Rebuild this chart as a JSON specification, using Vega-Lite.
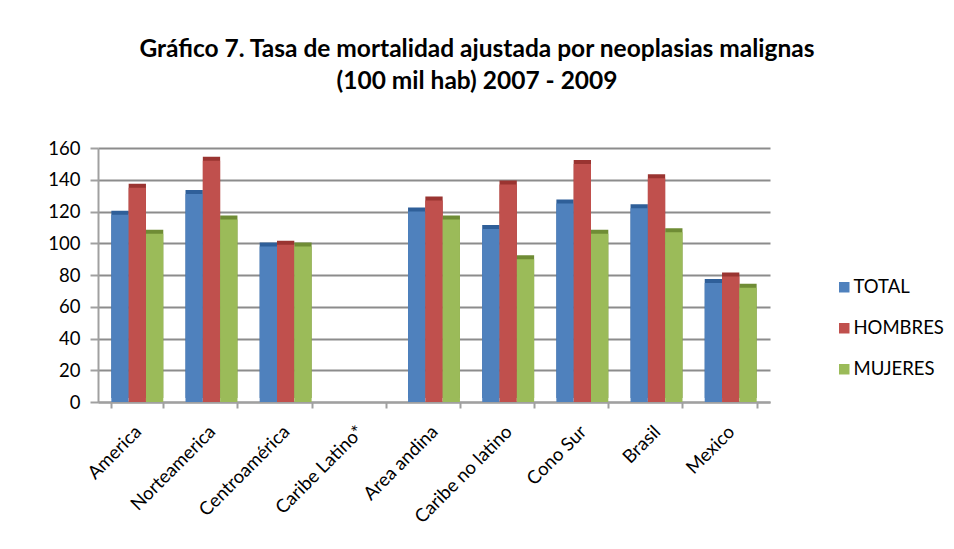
{
  "$schema": "https://vega.github.io/schema/vega-lite/v6.json",
  "autosize": "none",
  "width": 672,
  "height": 254,
  "padding": {"left": 98, "top": 148, "right": 184, "bottom": 147},
  "background": "white",
  "title": {
    "text": ["Gráfico 7. Tasa de mortalidad ajustada por neoplasias malignas", "(100 mil hab) 2007 - 2009"],
    "font": "Lato",
    "fontSize": 24.5,
    "fontWeight": "bold",
    "color": "#000000",
    "lineHeight": 32,
    "anchor": "middle",
    "frame": "group",
    "dx": 43,
    "offset": 45
  },
  "data": {
    "values": [
      {"region": "America", "serie": "TOTAL", "valor": 118},
      {"region": "America", "serie": "HOMBRES", "valor": 135},
      {"region": "America", "serie": "MUJERES", "valor": 106},
      {"region": "Norteamerica", "serie": "TOTAL", "valor": 131},
      {"region": "Norteamerica", "serie": "HOMBRES", "valor": 152},
      {"region": "Norteamerica", "serie": "MUJERES", "valor": 115},
      {"region": "Centroamérica", "serie": "TOTAL", "valor": 98},
      {"region": "Centroamérica", "serie": "HOMBRES", "valor": 99},
      {"region": "Centroamérica", "serie": "MUJERES", "valor": 98},
      {"region": "Caribe Latino*", "serie": "TOTAL", "valor": 0},
      {"region": "Caribe Latino*", "serie": "HOMBRES", "valor": 0},
      {"region": "Caribe Latino*", "serie": "MUJERES", "valor": 0},
      {"region": "Area andina", "serie": "TOTAL", "valor": 120},
      {"region": "Area andina", "serie": "HOMBRES", "valor": 127},
      {"region": "Area andina", "serie": "MUJERES", "valor": 115},
      {"region": "Caribe no latino", "serie": "TOTAL", "valor": 109},
      {"region": "Caribe no latino", "serie": "HOMBRES", "valor": 137},
      {"region": "Caribe no latino", "serie": "MUJERES", "valor": 90},
      {"region": "Cono Sur", "serie": "TOTAL", "valor": 125},
      {"region": "Cono Sur", "serie": "HOMBRES", "valor": 150},
      {"region": "Cono Sur", "serie": "MUJERES", "valor": 106},
      {"region": "Brasil", "serie": "TOTAL", "valor": 122},
      {"region": "Brasil", "serie": "HOMBRES", "valor": 141},
      {"region": "Brasil", "serie": "MUJERES", "valor": 107},
      {"region": "Mexico", "serie": "TOTAL", "valor": 75},
      {"region": "Mexico", "serie": "HOMBRES", "valor": 79},
      {"region": "Mexico", "serie": "MUJERES", "valor": 72}
    ]
  },
  "encoding": {
    "x": {
      "field": "region",
      "type": "nominal",
      "sort": null,
      "title": null,
      "scale": {"paddingInner": 0.3, "paddingOuter": 0.18},
      "axis": {
        "labelAngle": -45,
        "labelFont": "Lato",
        "labelFontSize": 18.5,
        "labelColor": "#000000",
        "labelPadding": 14,
        "labelOffset": -6,
        "domainColor": "#a0a0a0",
        "domainWidth": 2,
        "tickColor": "#a0a0a0",
        "tickWidth": 2,
        "tickSize": 6,
        "tickBand": "extent"
      }
    },
    "xOffset": {"field": "serie", "type": "nominal", "sort": ["TOTAL", "HOMBRES", "MUJERES"]},
    "y": {
      "field": "valor",
      "type": "quantitative",
      "title": null,
      "scale": {"domain": [0, 160]},
      "axis": {
        "values": [0, 20, 40, 60, 80, 100, 120, 140, 160],
        "labelFont": "Lato",
        "labelFontSize": 18.5,
        "labelColor": "#000000",
        "labelPadding": 10,
        "grid": true,
        "gridColor": "#8c8c8c",
        "gridWidth": 2,
        "domainColor": "#a0a0a0",
        "domainWidth": 2,
        "tickColor": "#a0a0a0",
        "tickWidth": 2,
        "tickSize": 8
      }
    }
  },
  "layer": [
    {
      "mark": {"type": "bar", "xOffset": 4, "yOffset": -4},
      "encoding": {
        "color": {
          "field": "serie",
          "type": "nominal",
          "scale": {"domain": ["TOTAL", "HOMBRES", "MUJERES"], "range": ["#2f5f99", "#9a3431", "#6f8c35"]},
          "legend": null
        }
      }
    },
    {
      "mark": {"type": "bar"},
      "encoding": {
        "color": {
          "field": "serie",
          "type": "nominal",
          "scale": {"domain": ["TOTAL", "HOMBRES", "MUJERES"], "range": ["#4F81BD", "#C0504D", "#9BBB59"]},
          "legend": {
            "title": null,
            "orient": "none",
            "legendX": 737,
            "legendY": 130,
            "symbolType": "square",
            "symbolSize": 110,
            "symbolStrokeWidth": 0,
            "labelFont": "Lato",
            "labelFontSize": 18.5,
            "labelColor": "#000000",
            "rowPadding": 22,
            "labelOffset": 0
          }
        }
      }
    }
  ],
  "resolve": {"scale": {"color": "independent"}},
  "config": {"view": {"stroke": null}}
}
